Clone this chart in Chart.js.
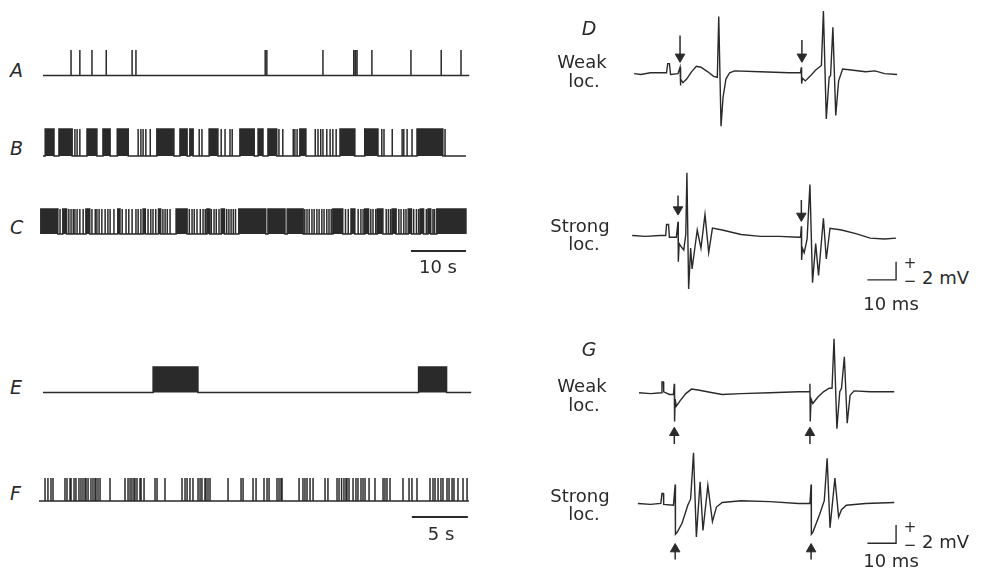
<!DOCTYPE html>
<html lang="en">
<head>
<meta charset="UTF-8">
<title>Spike trains and evoked responses</title>
<script src="https://cdn.jsdelivr.net/npm/chart.js"></script>
<style>
  body { margin: 0; background: #fff; }
  #fig { position: relative; width: 982px; height: 579px; overflow: hidden; background: #fff;
         color: #2a2a2a; font-family: "DejaVu Sans", sans-serif; }
  #fig canvas { position: absolute; }
  .txt { position: absolute; font-size: 18px; line-height: 20px; white-space: nowrap; }
  .panel { position: absolute; font-size: 19px; line-height: 20px; font-style: italic; }
  .sign { position: absolute; font-size: 15px; line-height: 16px; }
</style>
</head>
<body>
<div id="fig"></div>
<script>
// ---- spike trains (times in s) ----
const aSpan = [0, 77.5];
const aSpikes = [5.1, 6.7, 8.9, 11.5, 16.2, 16.9, 40.4, 40.7, 50.9, 56.5, 56.8, 57.1, 59.8, 66.9, 72.4, 76.0];
const aBursts = [];

const bSpan = [0, 76.9];
const bSpikes = [5.8, 6.2, 6.7, 17.3, 17.8, 18.2, 18.7, 19.5, 28.4, 28.9, 32.4, 33.1, 34.0, 34.4,
  42.9, 43.6, 45.5, 45.8, 46.2, 49.5, 50.0, 50.5, 50.9, 51.6, 52.2, 52.7, 53.3,
  61.6, 62.0, 63.5, 65.3, 65.6, 66.2, 67.1, 73.1];
const bBursts = [[0.4, 2.0], [2.9, 5.3], [8.0, 9.8], [10.9, 12.2], [13.5, 15.5], [20.7, 23.8],
  [24.9, 26.2], [26.7, 27.3], [30.2, 31.8], [35.8, 38.4], [39.1, 40.0], [40.9, 42.5],
  [46.7, 47.8], [54.0, 56.7], [58.5, 60.9], [68.0, 72.7]];

const cSpan = [-0.4, 76.9];
const cSpikes = [3.1, 4.7, 5.1, 5.5, 5.8, 6.2, 6.7, 7.3, 8.9, 9.5, 9.8, 10.2, 10.7, 11.3, 11.8, 12.2, 12.9,
  14.4, 15.1, 15.6, 16.2, 16.9, 17.3, 17.8, 19.1, 19.6, 20.0, 20.5, 21.8, 22.2, 22.6, 23.1,
  26.6, 27.1, 27.5, 28.0, 28.6, 29.1, 29.5, 30.6, 31.1, 31.5, 32.0, 33.4, 33.8, 34.2, 34.6, 35.0,
  47.6, 48.0, 48.4, 48.9, 49.3, 49.8, 50.2, 50.7, 51.1, 51.6, 52.0, 52.4, 55.0, 55.5,
  57.3, 57.8, 58.2, 59.6, 60.0, 60.5, 62.4, 62.8, 63.2, 64.7, 65.1, 65.6, 66.0, 67.4, 67.9, 68.3,
  69.7, 70.9, 71.2];
const cBursts = [[-0.4, 2.7], [3.6, 4.3], [7.8, 8.5], [13.6, 14.0], [18.2, 18.6], [21.0, 21.4],
  [24.2, 26.2], [29.8, 30.3], [32.4, 33.0], [35.6, 40.5], [40.9, 44.0], [44.4, 47.3], [52.7, 54.5],
  [56.0, 56.7], [58.5, 59.2], [60.8, 61.8], [63.5, 64.2], [66.4, 67.0], [68.6, 69.2], [70.0, 70.5],
  [71.6, 76.9]];
const tenSecBar = [66.9, 76.9];

const eSpan = [0.27, 38.5];
const eSpikes = [];
const eBursts = [[10.1, 14.1], [33.8, 36.3]];

const fSpan = [-0.09, 38.3];
const fSpikes = [0.45, 0.71, 0.98, 1.16, 2.23, 2.41, 2.68, 2.77, 3.04, 3.21, 3.48, 3.66, 3.84, 4.02, 4.11,
  4.29, 4.55, 4.73, 4.91, 5.0, 5.18, 5.36, 6.25, 7.59, 7.86, 8.04, 8.21, 8.39, 8.48, 8.66, 8.93, 9.02,
  9.29, 10.27, 10.45, 11.16, 12.68, 12.95, 13.13, 13.39, 13.66, 14.11, 14.29, 14.46, 14.73, 14.82,
  15.0, 15.18, 16.79, 17.95, 18.13, 19.02, 19.29, 20.0, 20.27, 20.45, 21.16, 21.34, 21.52, 21.61,
  23.13, 23.48, 23.66, 23.84, 24.11, 24.38, 25.45, 25.71, 26.52, 26.7, 26.88, 26.96, 27.14, 27.32,
  27.41, 27.59, 27.95, 28.21, 28.39, 28.66, 28.84, 29.02, 29.38, 29.91, 30.63, 30.8, 30.98, 31.25,
  32.41, 32.95, 33.21, 33.66, 34.82, 35.09, 35.27, 35.54, 35.8, 35.98, 36.34, 36.52, 36.79, 36.96,
  37.32, 37.77, 38.13];
const fBursts = [];
const fiveSecBar = [33.2, 38.2];

// ---- evoked responses: [time ms, potential mV] ----
const dWeak = [[0, -0.1], [2.3, -0.2], [5.7, 0], [11.3, 0], [11.7, 1.0], [12.3, 1.0], [12.7, -0.2],
  [15.3, -0.1], [16, 0.6], [16.1, -1.4], [16.3, -0.7], [17, -1.1], [18.3, -0.7], [20, 0.1], [21.7, 0.7],
  [23.3, 0.6], [25.7, 0.1], [27.7, -0.4], [29, -0.5], [29.5, 6.2], [30.3, -5.9], [31, -2.7], [32, -0.7],
  [33.3, 0], [35, 0.2], [44, 0.1], [54, 0], [58, 0], [58.3, 0.6], [58.4, -1.2], [58.7, -0.6],
  [59.7, -0.9], [61.3, -0.4], [63.3, 0.3], [65.3, 0.8], [66, 6.8], [67, -5.1], [68, -0.5], [68.5, -0.3],
  [69.3, 5.0], [70.3, -4.7], [71.3, -0.9], [72.7, 0.4], [75.7, 0.3], [80.7, 0.1], [84, 0.2],
  [87.3, -0.1], [91.7, -0.2]];
const dStrong = [[-0.7, 0], [4, -0.1], [9, 0], [11, 0], [11.3, 1.2], [12, 1.2], [12.3, -0.2],
  [14.7, -0.2], [15.3, 1.5], [15.4, -2.9], [15.7, -0.9], [16.3, -1.2], [17.3, -1.6], [18, 0.1],
  [18.4, 6.9], [19, -5.9], [19.7, -1.4], [20.2, -3.7], [22, 0.6], [23.3, -1.4], [24.7, 2.3], [26, -1.9],
  [27.3, 0.8], [30.7, 0.6], [37.3, 0.1], [44, -0.1], [50.7, -0.1], [57.3, -0.2], [58, -0.2], [58.3, 1.0],
  [58.4, -2.7], [58.7, -1.4], [59.3, -1.9], [60.3, -0.4], [61.3, 5.6], [62.2, -5.2], [63.3, -0.9],
  [64.3, -4.4], [66, 1.9], [67, -2.6], [68.3, 0.8], [72.3, 0.6], [77.3, 0.2], [82.3, -0.3],
  [87.3, -0.4], [91.3, -0.3]];
const gWeak = [[1.7, 0], [5.7, -0.1], [9.5, 0], [9.7, 1.2], [10.2, 1.2], [10.3, 0.1], [12.3, -0.2],
  [13.7, -0.2], [14, 1.0], [14.1, -3.2], [14.3, -0.7], [14.7, -1.5], [16, -0.9], [18, -0.1], [20, 0.4],
  [22.3, 0.3], [27.3, 0], [30.7, -0.2], [37.3, -0.1], [47.3, 0], [57.3, 0.1], [61, 0.1], [61.3, 1.0],
  [61.4, -3.2], [61.7, -0.7], [62.3, -1.2], [64, -0.5], [66, 0.1], [68, 0.5], [69, 0.5], [69.7, 6.0],
  [70.7, -4.0], [71.7, 0.1], [72.3, 0.5], [73.3, 4.0], [74.3, -3.4], [75.3, -0.3], [76.7, 0.2],
  [82.3, 0.1], [90.7, 0.1]];
const gStrong = [[1.3, 0], [5.7, -0.1], [9.3, 0], [9.7, 1.1], [10.2, 1.1], [10.3, -0.1], [13.7, -0.2],
  [14.3, 2.1], [14.4, -3.4], [15, -3.2], [16.7, -2.2], [18.7, -0.2], [19.7, 0.5], [20.7, 5.6],
  [21.7, -3.7], [23, 2.4], [24, -3.0], [25.7, 2.0], [27.3, -2.0], [28.7, -0.4], [30.7, 0.1], [37.3, 0.3],
  [47.3, 0.2], [57.3, 0], [61.3, 0], [61.7, 2.1], [61.8, -3.4], [62.3, -3.2], [64.7, -1.2], [66.3, 0.3],
  [67.3, 5.0], [68.3, -2.7], [70, 2.8], [71.3, -1.5], [72.3, -0.7], [74, -0.2], [80.7, 0], [90.7, 0.1]];

// stimulus arrows: [time ms, tail mV, tip mV]
const dWeakArrows = [[16, 4.1, 1.2], [58.5, 3.6, 1.2]];
const dStrongArrows = [[15.3, 4.4, 2.3], [58.3, 3.9, 1.6]];
const gWeakArrows = [[14, -5.7, -3.9], [61.3, -5.7, -3.9]];
const gStrongArrows = [[14.3, -6.2, -4.5], [61.7, -6.2, -4.5]];
const msBar = 10, mvBar = 2;

// ---- drawing ----
const INK = '#2a2a2a';
const fig = document.getElementById('fig');

function mount(left, top, width, height, xRange, yRange, datasets) {
  const c = document.createElement('canvas');
  c.width = width; c.height = height;
  c.style.left = left + 'px'; c.style.top = top + 'px';
  c.style.width = width + 'px'; c.style.height = height + 'px';
  fig.appendChild(c);
  new Chart(c, {
    type: 'line',
    data: { datasets },
    options: {
      responsive: false,
      animation: false,
      events: [],
      layout: { padding: 0 },
      plugins: { legend: { display: false }, tooltip: { enabled: false } },
      elements: { point: { radius: 0 }, line: { tension: 0 } },
      scales: {
        x: { type: 'linear', display: false, min: xRange[0], max: xRange[1] },
        y: { type: 'linear', display: false, min: yRange[0], max: yRange[1] }
      }
    }
  });
}

function trainPath(span, spikes, bursts) {
  const ev = spikes.map(t => [t, t]).concat(bursts).sort((a, b) => a[0] - b[0]);
  const pts = [{ x: span[0], y: 0 }];
  ev.forEach(([s, e]) => {
    pts.push({ x: s, y: 0 }, { x: s, y: 1 });
    if (e > s) pts.push({ x: e, y: 1 });
    pts.push({ x: e, y: 0 });
  });
  pts.push({ x: span[1], y: 0 });
  return pts;
}

function train(scale, box, span, spikes, bursts, bar) {
  const h = box.base - box.top;
  const L = 39, R = 472;
  const ds = [{
    data: trainPath(span, spikes, bursts), borderColor: INK, backgroundColor: INK,
    borderWidth: 1.5, fill: 'origin'
  }];
  if (bar) {
    const v = (box.base - box.barY) / h;
    ds.push({ data: [{ x: bar[0], y: v }, { x: bar[1], y: v }], borderColor: INK, borderWidth: 1.8, fill: false });
  }
  mount(L, box.cTop, R - L, box.cBot - box.cTop,
    [(L - scale.origin) / scale.pps, (R - scale.origin) / scale.pps],
    [(box.base - box.cBot) / h, (box.base - box.cTop) / h], ds);
}

const LONG = { origin: 43, pps: 5.5 };   // 10 s = 55 px
const SHORT = { origin: 40, pps: 11.2 }; // 5 s = 56 px

train(LONG, { top: 50, base: 75.5, cTop: 46, cBot: 79 }, aSpan, aSpikes, aBursts);
train(LONG, { top: 129, base: 156, cTop: 125, cBot: 160 }, bSpan, bSpikes, bBursts);
train(LONG, { top: 209, base: 234, cTop: 205, cBot: 257, barY: 251 }, cSpan, cSpikes, cBursts, tenSecBar);
train(SHORT, { top: 367, base: 392.5, cTop: 363, cBot: 396 }, eSpan, eSpikes, eBursts);
train(SHORT, { top: 478, base: 501, cTop: 474, cBot: 522, barY: 517 }, fSpan, fSpikes, fBursts, fiveSecBar);

// right-hand traces: 3 px per ms, 10 px per mV, 0 ms at x = 628
const MS0 = 628, PX_MS = 3, PX_MV = 10, RL = 620, RR = 915;

function trace(box, pts, arrows, down, bar) {
  const toMs = px => (px - MS0) / PX_MS;
  const toMv = py => (box.base - py) / PX_MV;
  const head = 5.5 / PX_MV;
  const shaft = [], heads = [];
  arrows.forEach(([t, from, to]) => {
    const hv = down ? to + head : to - head;
    shaft.push({ x: t, y: from }, { x: t, y: hv }, { x: t, y: null });
    heads.push({ x: t, y: hv });
  });
  const ds = [
    { data: pts.map(([x, y]) => ({ x, y })), borderColor: INK, borderWidth: 1.4, fill: false },
    { data: shaft, borderColor: INK, borderWidth: 1.5, fill: false, spanGaps: false },
    { data: heads, showLine: false, pointStyle: 'triangle', pointRadius: 5.5, pointRotation: down ? 180 : 0,
      pointBackgroundColor: INK, pointBorderColor: INK, pointBorderWidth: 1 }
  ];
  if (bar) {
    const t1 = toMs(bar.x), v0 = toMv(bar.y);
    ds.push({ data: [{ x: t1 - msBar, y: v0 }, { x: t1, y: v0 }, { x: t1, y: v0 + mvBar }],
      borderColor: INK, borderWidth: 1.4, fill: false });
  }
  mount(RL, box.cTop, RR - RL, box.cBot - box.cTop, [toMs(RL), toMs(RR)],
    [toMv(box.cBot), toMv(box.cTop)], ds);
}

trace({ base: 73, cTop: 0, cBot: 140 }, dWeak, dWeakArrows, true);
trace({ base: 236, cTop: 160, cBot: 300 }, dStrong, dStrongArrows, true, { x: 902, y: 285 });
trace({ base: 393, cTop: 325, cBot: 455 }, gWeak, gWeakArrows, false);
trace({ base: 503, cTop: 440, cBot: 575 }, gStrong, gStrongArrows, false, { x: 902, y: 547 });

// ---- text ----
function text(str, x, baseline, cls, center) {
  const d = document.createElement('div');
  d.className = cls;
  d.textContent = str;
  d.style.top = (baseline - 16) + 'px';
  if (center) { d.style.left = (x - 100) + 'px'; d.style.width = '200px'; d.style.textAlign = 'center'; }
  else d.style.left = x + 'px';
  fig.appendChild(d);
}

text('A', 10, 76, 'panel');
text('B', 10, 154, 'panel');
text('C', 10, 233, 'panel');
text('E', 10, 393, 'panel');
text('F', 10, 499, 'panel');
text('D', 589, 34, 'panel', true);
text('G', 589, 355, 'panel', true);

text('Weak', 582, 68, 'txt', true);
text('loc.', 584, 87, 'txt', true);
text('Strong', 580, 232, 'txt', true);
text('loc.', 584, 250, 'txt', true);
text('Weak', 582, 392, 'txt', true);
text('loc.', 584, 411, 'txt', true);
text('Strong', 580, 502, 'txt', true);
text('loc.', 584, 520, 'txt', true);

text('10 s', 438, 273, 'txt', true);
text('5 s', 441, 540, 'txt', true);
text('2 mV', 922, 284, 'txt');
text('10 ms', 891, 310, 'txt', true);
text('2 mV', 922, 548, 'txt');
text('10 ms', 891, 567, 'txt', true);
text('+', 910, 271, 'sign', true);
text('\u2212', 910, 289, 'sign', true);
text('+', 910, 535, 'sign', true);
text('\u2212', 910, 553, 'sign', true);
</script>
</body>
</html>
